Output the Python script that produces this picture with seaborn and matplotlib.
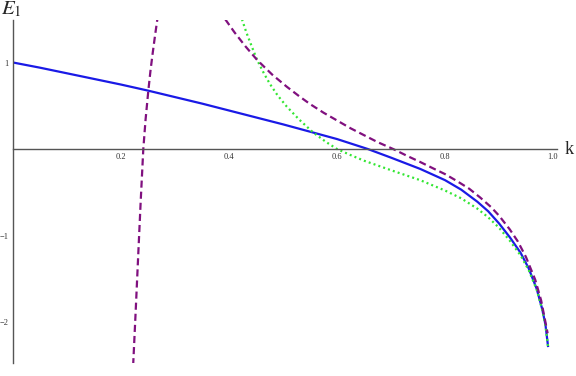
import numpy as np
import pandas as pd
import matplotlib
matplotlib.use("Agg")
import matplotlib.pyplot as plt
import seaborn as sns
from matplotlib.ticker import MultipleLocator, FixedLocator

# ---- data ----
blue_k = [0.0, 0.05, 0.1, 0.15, 0.2, 0.25, 0.3, 0.35, 0.4, 0.45, 0.5, 0.556, 0.6,
          0.657, 0.7, 0.754, 0.8, 0.83, 0.86, 0.88, 0.9, 0.92, 0.94, 0.955, 0.97,
          0.98, 0.986, 0.991]
blue_e = [1.0, 0.94, 0.875, 0.81, 0.745, 0.675, 0.60, 0.525, 0.445, 0.365, 0.285,
          0.19, 0.115, 0.0, -0.10, -0.23, -0.36, -0.47, -0.61, -0.72, -0.86, -1.02,
          -1.20, -1.38, -1.62, -1.85, -2.03, -2.29]

purple_left_k = [0.2225, 0.227, 0.2323, 0.2365, 0.2413, 0.2455, 0.2506, 0.2545,
                 0.2585, 0.263, 0.2673]
purple_left_e = [-2.50, -1.90, -1.17, -0.60, 0.0, 0.34, 0.674, 0.90, 1.10, 1.31, 1.50]

purple_right_k = [0.393, 0.41, 0.43, 0.452, 0.48, 0.507, 0.53, 0.55, 0.575, 0.6,
                  0.625, 0.65, 0.675, 0.704, 0.73, 0.754, 0.78, 0.8, 0.822, 0.845,
                  0.865, 0.885, 0.9, 0.92, 0.935, 0.95, 0.967, 0.978, 0.985, 0.99]
purple_right_e = [1.50, 1.35, 1.19, 1.03, 0.86, 0.72, 0.61, 0.52, 0.42, 0.33,
                  0.24, 0.16, 0.08, 0.0, -0.08, -0.15, -0.23, -0.29, -0.37, -0.46,
                  -0.56, -0.67, -0.77, -0.93, -1.07, -1.25, -1.51, -1.75, -1.97, -2.13]

green_k = [0.424, 0.432, 0.44, 0.452, 0.465, 0.476, 0.49, 0.507, 0.53, 0.556, 0.58,
           0.6, 0.625, 0.65, 0.7, 0.754, 0.8, 0.83, 0.86, 0.88, 0.9, 0.92, 0.94,
           0.955, 0.97, 0.98, 0.986, 0.991]
green_e = [1.50, 1.35, 1.22, 1.03, 0.87, 0.75, 0.62, 0.49, 0.34, 0.19, 0.08,
           0.0, -0.07, -0.135, -0.245, -0.36, -0.48, -0.57, -0.69, -0.79, -0.91,
           -1.06, -1.23, -1.40, -1.63, -1.86, -2.04, -2.29]

x_major = [0.2, 0.4, 0.6, 0.8, 1.0]
x_labels = ["0.2", "0.4", "0.6", "0.8", "1.0"]
y_major = [-2, -1, 1]
y_labels = ["\u22122", "\u22121", "1"]

# ---- style ----
sns.set_style("white")
plt.rcParams["font.family"] = ["Liberation Serif", "DejaVu Serif"]
plt.rcParams["mathtext.fontset"] = "stix"

W, H = 576, 376
fig = plt.figure(figsize=(W / 100, H / 100), dpi=100)
ax_left, ax_right, ax_top, ax_bottom = 13, 557, 20, 363
ax = fig.add_axes([ax_left / W, 1 - ax_bottom / H, (ax_right - ax_left) / W, (ax_bottom - ax_top) / H])

blue_c = "#1a1ae6"
purple_c = "#80107f"
green_c = "#33e633"

df_b = pd.DataFrame({"k": blue_k, "E": blue_e})
df_pl = pd.DataFrame({"k": purple_left_k, "E": purple_left_e})
df_pr = pd.DataFrame({"k": purple_right_k, "E": purple_right_e})
df_g = pd.DataFrame({"k": green_k, "E": green_e})

sns.lineplot(data=df_b, x="k", y="E", ax=ax, color=blue_c, lw=1.6, estimator=None)
sns.lineplot(data=df_g, x="k", y="E", ax=ax, color=green_c, lw=1.6, estimator=None)
sns.lineplot(data=df_pl, x="k", y="E", ax=ax, color=purple_c, lw=1.6, estimator=None)
sns.lineplot(data=df_pr, x="k", y="E", ax=ax, color=purple_c, lw=1.6, estimator=None)

lines = ax.get_lines()
lines[1].set_dashes([0.9, 1.4])
lines[2].set_dashes([3.2, 1.8])
lines[3].set_dashes([3.2, 1.8])
for ln in lines:
    ln.set_solid_capstyle("butt")
    ln.set_dash_capstyle("butt")
    ln.set_solid_joinstyle("round")
    ln.set_dash_joinstyle("round")

ax.set_xlim(0, (ax_right - ax_left) / 540)
ax.set_ylim((149 - ax_bottom) / 86.5, (149 - ax_top) / 86.5)

# axes through origin
for s in ["top", "right"]:
    ax.spines[s].set_visible(False)
ax.spines["left"].set_position(("data", 0))
ax.spines["bottom"].set_position(("data", 0))
axis_c = "#555555"
for s in ["left", "bottom"]:
    ax.spines[s].set_color(axis_c)
    ax.spines[s].set_linewidth(1.0)

ax.xaxis.set_major_locator(FixedLocator(x_major))
ax.set_xticklabels(x_labels)
ax.xaxis.set_minor_locator(MultipleLocator(0.05))
ax.yaxis.set_major_locator(FixedLocator(y_major))
ax.set_yticklabels(y_labels)
ax.yaxis.set_minor_locator(MultipleLocator(0.2))

ax.tick_params(axis="both", which="major", direction="in", length=4, width=0.8,
               color=axis_c, labelsize=6, labelcolor="#333333")
ax.tick_params(axis="both", which="minor", direction="in", length=2.5, width=0.7,
               color=axis_c)
ax.tick_params(axis="x", which="major", pad=3)
ax.tick_params(axis="y", which="major", pad=3)
ax.set_xlabel("")
ax.set_ylabel("")
ax.grid(False)

fig.text(1 / W, 1 - 14 / H, "$E_1$", fontsize=15, ha="left", va="baseline")
fig.text(565 / W, 1 - 154 / H, "k", fontsize=13, ha="left", va="baseline")

fig.savefig("out.png", dpi=100)
